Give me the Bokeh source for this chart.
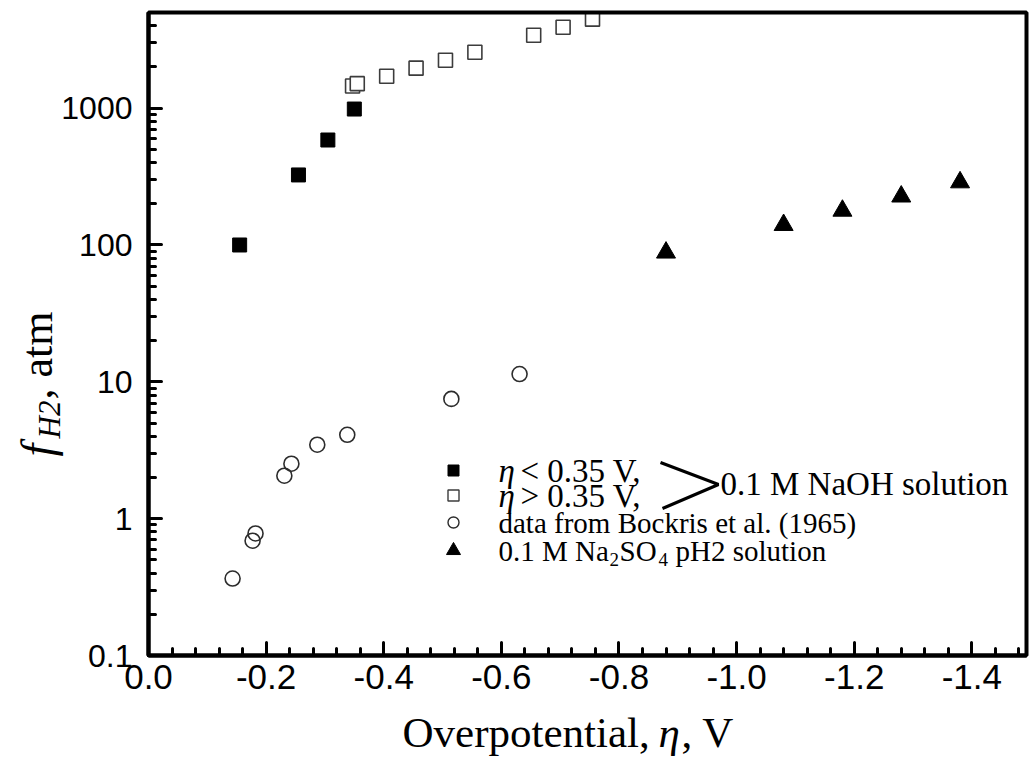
import numpy as np
from bokeh.plotting import figure
from bokeh.models import (Range1d, FixedTicker, CustomJSTickFormatter, Label, LinearAxis,
                          LogAxis, LogScale, BoxAnnotation)
from bokeh.embed import file_html
from bokeh.resources import INLINE

# ---------------- data ----------------
naoh_low_eta = [-0.155, -0.255, -0.305, -0.350]
naoh_low_f = [100, 325, 585, 985]

naoh_high_eta = [-0.347, -0.355, -0.405, -0.455, -0.505, -0.555, -0.655, -0.705, -0.755]
naoh_high_f = [1450, 1510, 1710, 1960, 2240, 2560, 3410, 3900, 4470]

bockris_eta = [-0.143, -0.177, -0.182, -0.231, -0.243, -0.287, -0.338, -0.515, -0.631]
bockris_f = [0.365, 0.69, 0.78, 2.06, 2.52, 3.47, 4.10, 7.5, 11.4]

na2so4_eta = [-0.88, -1.08, -1.18, -1.28, -1.38]
na2so4_f = [88, 140, 178, 226, 287]

x_ticks = [0.0, -0.2, -0.4, -0.6, -0.8, -1.0, -1.2, -1.4]
x_minor = [round(-0.04 * i, 2) for i in range(0, 38)]
y_ticks = [0.1, 1, 10, 100, 1000]
y_minor = [m * 10.0 ** e for e in range(-1, 4) for m in range(2, 10) if m * 10.0 ** e < 4500]

legend_bockris = "data from Bockris et al. (1965)"
legend_naoh = "0.1 M NaOH solution"

# ---------------- layout (pixels) ----------------
W, H = 1029, 767
BOX_L, BOX_R, BOX_T, BOX_B = 148, 1026, 12, 655   # plot box in the page
X0, X1 = 0.0, -1.493                              # axis extents
Y0, Y1 = 0.1, 5000.0
PX_PER_X = (BOX_R - BOX_L) / (X0 - X1)
PX_PER_DEC = (BOX_B - BOX_T) / (np.log10(Y1) - np.log10(Y0))


def ex(px):
    """page x (px from left) -> data x"""
    return X0 - (px - BOX_L) / PX_PER_X


def ey(py):
    """page y (px from top) -> data y"""
    return 10 ** (np.log10(Y0) + (BOX_B - py) / PX_PER_DEC)


p = figure(width=W, height=H, x_range=Range1d(ex(0), ex(W)), y_range=Range1d(ey(H), ey(0)),
           y_axis_type="log", x_axis_location=None, y_axis_location=None,
           output_backend="svg", toolbar_location=None,
           min_border_left=0, min_border_right=0, min_border_top=0, min_border_bottom=0)
p.y_scale = LogScale()
p.grid.visible = False
p.outline_line_color = None
p.background_fill_color = "white"
p.border_fill_color = "white"

xaxis = LinearAxis(fixed_location=Y0, bounds=(X1, X0))
yaxis = LogAxis(fixed_location=X0, bounds=(Y0, Y1))
p.add_layout(xaxis, "below")
p.add_layout(yaxis, "left")

for ax in (xaxis, yaxis):
    ax.axis_line_width = 4
    ax.axis_line_color = "black"
    ax.major_tick_in = 13
    ax.major_tick_out = 0
    ax.minor_tick_in = 7
    ax.minor_tick_out = 0
    ax.major_tick_line_width = 3
    ax.minor_tick_line_width = 3
    ax.major_tick_line_cap = "round"
    ax.minor_tick_line_cap = "round"
    ax.major_label_text_color = "black"
    ax.major_label_text_font = "Liberation Sans"

xaxis.ticker = FixedTicker(ticks=x_ticks, minor_ticks=x_minor)
xaxis.formatter = CustomJSTickFormatter(code="return tick.toFixed(1);")
xaxis.major_label_text_font_size = "35px"
xaxis.major_label_standoff = 9

yaxis.ticker = FixedTicker(ticks=y_ticks, minor_ticks=y_minor)
yaxis.formatter = CustomJSTickFormatter(code="return String(tick);")
yaxis.major_label_text_font_size = "32px"
yaxis.major_label_standoff = 16

# plot box (top and right edges)
p.add_layout(BoxAnnotation(left=X0, right=X1, bottom=Y0, top=Y1, fill_alpha=0,
                           line_color="black", line_alpha=1.0, line_width=4))

# ---------------- data marks ----------------
p.scatter(naoh_low_eta, naoh_low_f, marker="square", size=14,
          fill_color="black", line_color="black")
p.scatter(naoh_high_eta, naoh_high_f, marker="square", size=14,
          fill_color="white", line_color="#3c3c3c", line_width=1.6)
p.scatter(bockris_eta, bockris_f, marker="circle", size=15,
          fill_color="white", fill_alpha=0, line_color="#2c2c2c", line_width=1.6)
p.scatter(na2so4_eta, na2so4_f, marker="triangle", size=19,
          fill_color="black", line_color="black")

SERIF = "Liberation Serif"


def lab(px, py, text, size, style="normal", angle=0.0, align="left", baseline="middle"):
    p.add_layout(Label(x=ex(px), y=ey(py), text=text, text_font=SERIF,
                       text_font_size=f"{size}px", text_font_style=style,
                       text_color="black", angle=angle, text_align=align,
                       text_baseline=baseline))


# ---------------- axis titles ----------------
lab(402, 732, "Overpotential,", 43)
lab(658, 732, "\u03b7", 43, style="italic")
lab(681, 732, ", V", 43)

rot = np.pi / 2
lab(37, 456, "f", 46, style="italic", angle=rot)
lab(49, 438, "H2", 31, style="italic", angle=rot)
lab(37, 399, ", atm", 44, angle=rot)

# ---------------- legend ----------------
LX = 453
TX = 498
rows_y = [470, 495, 522, 550]
FS1 = 33
FS = 29
p.scatter([ex(LX)], [ey(rows_y[0])], marker="square", size=11, fill_color="black", line_color="black")
p.scatter([ex(LX)], [ey(rows_y[1])], marker="square", size=11, fill_color="white",
          line_color="#3c3c3c", line_width=1.4)
p.scatter([ex(LX)], [ey(rows_y[2])], marker="circle", size=11, fill_color="white",
          line_color="#2c2c2c", line_width=1.4)
p.scatter([ex(LX)], [ey(rows_y[3])], marker="triangle", size=14,
          fill_color="black", line_color="black")

lab(TX, rows_y[0], "\u03b7", FS1, style="italic")
lab(TX + 22, rows_y[0], "< 0.35 V,", FS1)
lab(TX, rows_y[1], "\u03b7", FS1, style="italic")
lab(TX + 22, rows_y[1], "> 0.35 V,", FS1)
lab(TX, rows_y[2], legend_bockris, FS)
lab(TX, rows_y[3], "0.1 M Na", FS)
lab(TX + 111, rows_y[3] + 9, "2", 19)
lab(TX + 121, rows_y[3], "SO", FS)
lab(TX + 160, rows_y[3] + 9, "4", 19)
lab(TX + 177, rows_y[3], "pH2 solution", FS)

# bracket joining the two NaOH rows
bx = [ex(660), ex(718), ex(662)]
by = [ey(462), ey(484), ey(508)]
p.line(bx, by, line_color="black", line_width=3)
lab(720, 483, legend_naoh, 33)

open("out.html", "w").write(file_html(p, INLINE))
